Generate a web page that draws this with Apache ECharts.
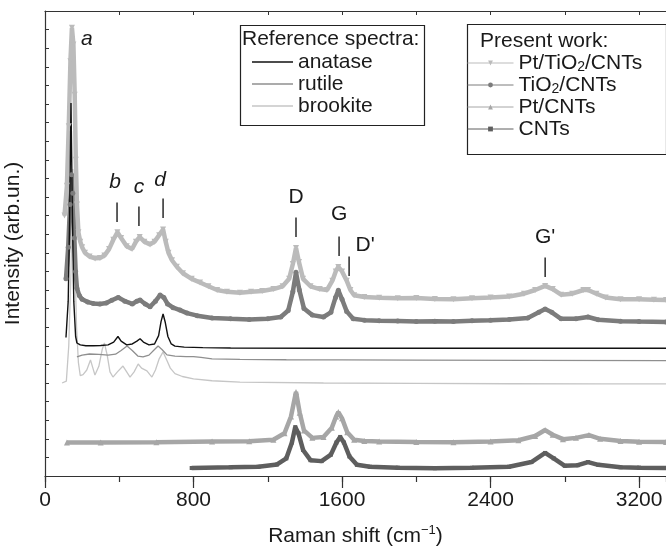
<!DOCTYPE html>
<html>
<head>
<meta charset="utf-8">
<title>Raman spectra</title>
<script src="https://cdn.jsdelivr.net/npm/echarts@6/dist/echarts.min.js"></script>
<style>
  html, body { margin: 0; padding: 0; background: #fff; }
  #chart { width: 666px; height: 547px; }
</style>
</head>
<body>
<div id="chart"></div>
<script>
// [Raman shift (cm-1), intensity (arb. units, curves offset)]
const ptTiO2Cnts = [
  [105, 14.0], [118, 15.6], [128, 18.8], [137, 22.3], [145, 24.1], [153, 23.2], [160, 20.5], [166, 17.0],
  [172, 14.6], [180, 13.1], [190, 12.6], [200, 12.3], [215, 12.0], [240, 11.8], [270, 11.7], [296, 11.72],
  [320, 11.85], [345, 12.2], [368, 12.7], [390, 13.1], [410, 12.8], [440, 12.35], [469, 12.2], [490, 12.6],
  [510, 12.85], [535, 12.6], [566, 12.45], [590, 12.6], [615, 12.95], [636, 13.25], [650, 12.6], [665, 12.0],
  [684, 11.6], [710, 11.25], [743, 10.9], [790, 10.6], [835, 10.4], [880, 10.2], [927, 10.0], [980, 9.9],
  [1050, 9.85], [1110, 9.9], [1170, 9.95], [1230, 10.05], [1280, 10.2], [1315, 10.6], [1335, 11.4], [1352, 12.26],
  [1368, 11.5], [1390, 10.6], [1430, 10.2], [1480, 10.05], [1519, 10.0], [1548, 10.5], [1566, 11.0], [1580, 11.24],
  [1600, 11.0], [1625, 10.5], [1645, 10.0], [1665, 9.72], [1720, 9.62], [1800, 9.58], [1900, 9.55], [2000, 9.57],
  [2100, 9.52], [2200, 9.5], [2300, 9.56], [2400, 9.6], [2500, 9.65], [2580, 9.8], [2640, 10.0], [2694, 10.22],
  [2735, 10.05], [2780, 9.75], [2840, 9.8], [2900, 10.0], [2925, 10.0], [2970, 9.8], [3020, 9.6], [3100, 9.5],
  [3200, 9.5], [3280, 9.48], [3345, 9.46]
];
const tio2Cnts = [
  [113, 10.6], [125, 12.3], [135, 14.6], [143, 16.2], [150, 15.2], [158, 12.8], [165, 11.0], [172, 10.1],
  [185, 9.7], [200, 9.5], [230, 9.35], [260, 9.28], [296, 9.25], [330, 9.3], [360, 9.45], [395, 9.6],
  [430, 9.4], [470, 9.25], [495, 9.4], [512, 9.46], [540, 9.25], [566, 9.1], [595, 9.4], [620, 9.73],
  [640, 9.6], [660, 9.25], [690, 9.05], [727, 8.92], [765, 8.76], [820, 8.62], [900, 8.5], [1000, 8.45],
  [1100, 8.42], [1200, 8.45], [1270, 8.55], [1310, 8.9], [1335, 9.9], [1352, 10.95], [1370, 10.0], [1395, 9.0],
  [1440, 8.65], [1500, 8.55], [1540, 8.8], [1565, 9.6], [1580, 9.98], [1600, 9.5], [1625, 8.85], [1660, 8.45],
  [1720, 8.38], [1800, 8.35], [1900, 8.33], [2000, 8.3], [2100, 8.32], [2200, 8.3], [2300, 8.35], [2400, 8.38],
  [2500, 8.42], [2600, 8.5], [2660, 8.8], [2694, 8.98], [2730, 8.8], [2780, 8.45], [2860, 8.45], [2925, 8.55],
  [2980, 8.4], [3100, 8.32], [3200, 8.3], [3345, 8.28]
];
const anatase = [
  [113, 7.45], [125, 9.4], [133, 14.0], [140, 20.05], [147, 14.5], [155, 9.4], [165, 7.5], [172, 7.15],
  [190, 7.05], [220, 7.0], [260, 7.0], [300, 7.02], [340, 7.05], [370, 7.2], [393, 7.5], [410, 7.25],
  [440, 7.05], [470, 7.1], [495, 7.25], [512, 7.38], [530, 7.2], [560, 7.05], [590, 7.1], [612, 7.55],
  [625, 8.3], [636, 8.71], [648, 8.25], [662, 7.5], [680, 7.1], [700, 6.98], [750, 6.93], [850, 6.9],
  [1000, 6.88], [1500, 6.87], [2000, 6.87], [2500, 6.87], [3000, 6.87], [3345, 6.87]
];
const rutile = [
  [172, 6.4], [200, 6.5], [240, 6.56], [290, 6.54], [340, 6.5], [380, 6.55], [410, 6.75], [442, 6.99],
  [470, 6.75], [500, 6.45], [528, 6.4], [560, 6.5], [590, 6.8], [609, 6.99], [630, 6.8], [657, 6.51],
  [700, 6.45], [760, 6.42], [800, 6.42], [840, 6.38], [900, 6.3], [1050, 6.27], [1300, 6.25], [1600, 6.24],
  [2000, 6.23], [2600, 6.22], [3345, 6.2]
];
const brookite = [
  [92, 5.0], [115, 5.1], [128, 7.0], [140, 11.0], [150, 16.5], [160, 12.0], [170, 8.0], [180, 6.1],
  [190, 5.4], [205, 5.45], [225, 5.7], [245, 6.24], [258, 5.8], [269, 5.43], [290, 5.9], [308, 6.8],
  [320, 7.15], [335, 6.5], [350, 5.6], [366, 5.32], [390, 5.6], [420, 5.91], [440, 5.6], [458, 5.32],
  [480, 5.6], [502, 6.02], [520, 5.8], [549, 5.65], [565, 5.45], [576, 5.32], [595, 5.7], [615, 6.3],
  [636, 6.67], [655, 6.25], [675, 5.8], [700, 5.5], [740, 5.35], [800, 5.22], [900, 5.12], [1050, 5.05],
  [1500, 5.0], [2000, 4.98], [2500, 4.96], [3000, 4.95], [3345, 4.95]
];
const ptCnts = [
  [118, 1.8], [300, 1.8], [600, 1.82], [900, 1.85], [1100, 1.87], [1230, 1.95], [1290, 2.3], [1325, 3.2],
  [1352, 4.52], [1372, 3.4], [1395, 2.45], [1440, 2.05], [1500, 2.1], [1545, 2.6], [1568, 3.2], [1580, 3.44],
  [1600, 3.1], [1628, 2.35], [1665, 1.95], [1720, 1.88], [1800, 1.85], [2000, 1.83], [2200, 1.82], [2400, 1.85],
  [2550, 1.92], [2640, 2.15], [2694, 2.47], [2735, 2.22], [2790, 1.98], [2860, 2.05], [2930, 2.2], [2990, 2.0],
  [3100, 1.88], [3200, 1.84], [3345, 1.83]
];
const cnts = [
  [790, 0.43], [1000, 0.47], [1150, 0.5], [1250, 0.62], [1300, 0.95], [1330, 1.8], [1348, 2.63], [1365, 2.3],
  [1390, 1.4], [1430, 0.85], [1490, 0.8], [1540, 1.15], [1570, 1.8], [1590, 2.1], [1610, 1.8], [1640, 1.05],
  [1680, 0.6], [1750, 0.5], [1900, 0.45], [2100, 0.42], [2300, 0.44], [2500, 0.5], [2620, 0.75], [2694, 1.24],
  [2740, 0.95], [2800, 0.55], [2870, 0.58], [2925, 0.75], [2980, 0.6], [3100, 0.47], [3200, 0.45], [3345, 0.43]
];

// peak markers (data units)
const peakLabels = ['a', 'b', 'c', 'd', 'D', 'G', "D'", "G'"];
const peakLabelX = [226, 377, 506, 620, 1352, 1584, 1724, 2694];
const peakLabelY = [23.49, 15.81, 15.54, 15.91, 15.0, 14.05, 12.42, 12.85];
const peakTickX = [null, 388, 506, 636, 1352, 1584, 1638, 2694];
const peakTickBottom = [null, 13.66, 13.44, 13.87, 12.85, 11.83, 10.75, 10.70];

const refNames = ['anatase', 'rutile', 'brookite'];
const workNames = ['Pt/TiO2/CNTs', 'TiO2/CNTs', 'Pt/CNTs', 'CNTs'];

const FONT = '"Liberation Sans", Arial, sans-serif';
const chart = echarts.init(document.getElementById('chart'));

function refLine(name, data, color, width) {
  return {
    name, type: 'line', data, symbol: 'none', z: 3,
    lineStyle: { color, width },
    itemStyle: { color }
  };
}

function workLine(name, data, color, symbol, size, rotate) {
  return {
    name, type: 'line', data, symbol, symbolSize: size, symbolRotate: rotate || 0,
    lineStyle: { color, width: 4.5 },
    itemStyle: { color }
  };
}

const legendText = {
  fontSize: 21, fontFamily: FONT, color: '#1a1a1a', lineHeight: 22,
  rich: { sub: { fontSize: 14, fontFamily: FONT, color: '#1a1a1a', lineHeight: 22, verticalAlign: 'bottom' } }
};

chart.setOption({
  animation: false,
  backgroundColor: '#fff',
  grid: [
    { left: 45, right: 0, top: 11, bottom: 71, outerBoundsMode: 'none' },
    { left: 45, right: 0, top: 11, bottom: 71, outerBoundsMode: 'none' }
  ],
  xAxis: [{
    type: 'value', gridIndex: 0, min: 0, max: 3345, interval: 800,
    name: 'Raman shift (cm{sup|\u22121})', nameLocation: 'middle', nameGap: 48,
    nameTextStyle: {
      fontSize: 21, fontFamily: FONT, color: '#1a1a1a', lineHeight: 24,
      rich: { sup: { fontSize: 13, fontFamily: FONT, color: '#1a1a1a', lineHeight: 24, verticalAlign: 'top' } }
    },
    axisLine: { lineStyle: { color: '#333', width: 1.2 } },
    axisTick: { length: 12, lineStyle: { color: '#333', width: 1.2 } },
    axisLabel: {
      fontSize: 21, fontFamily: FONT, color: '#1a1a1a', margin: 14, showMaxLabel: false,
      formatter: v => String(v)
    },
    splitLine: { show: false }
  }, {
    // minor ticks every 400
    type: 'value', gridIndex: 1, position: 'bottom', min: 0, max: 3345, interval: 400,
    axisLine: { show: false },
    axisTick: { length: 6, lineStyle: { color: '#333', width: 1.2 } },
    axisLabel: { show: false },
    splitLine: { show: false }
  }, {
    type: 'value', gridIndex: 1, position: 'top', min: 0, max: 3345, interval: 400,
    axisLine: { lineStyle: { color: '#333', width: 1.2 } },
    axisTick: { inside: true, length: 4, lineStyle: { color: '#333' } },
    axisLabel: { show: false },
    splitLine: { show: false }
  }],
  yAxis: [{
    type: 'value', gridIndex: 0, min: 0, max: 25, interval: 1,
    name: 'Intensity (arb.un.)', nameLocation: 'middle', nameGap: 21,
    nameTextStyle: { fontSize: 21, fontFamily: FONT, color: '#1a1a1a' },
    axisLine: { show: true, lineStyle: { color: '#333', width: 1.2 } },
    axisTick: { show: true, inside: true, length: 4, lineStyle: { color: '#333' } },
    axisLabel: { show: false },
    splitLine: { show: false }
  }, {
    type: 'value', gridIndex: 1, min: 0, max: 25, show: false
  }],
  legend: [{
    data: refNames.map(name => ({ name, icon: 'rect' })),
    orient: 'vertical', left: 252, top: 51, padding: 0,
    itemWidth: 41, itemHeight: 1.4, itemGap: 0, textStyle: legendText
  }, {
    data: workNames, orient: 'vertical', left: 467, top: 52, padding: 0,
    itemWidth: 46, itemHeight: 6, itemGap: 0, textStyle: legendText,
    lineStyle: { width: 1 },
    formatter: n => n.replace('O2', 'O{sub|2}')
  }],
  graphic: [
    { type: 'rect', left: 238, top: 23, shape: { width: 184, height: 100 },
      style: { fill: 'none', stroke: '#222', lineWidth: 1.2 } },
    { type: 'text', left: 242, top: 29,
      style: { text: 'Reference spectra:', fontSize: 21, fontFamily: FONT, fill: '#1a1a1a' } },
    { type: 'rect', left: 465, top: 22, shape: { width: 199, height: 130 },
      style: { fill: 'none', stroke: '#222', lineWidth: 1.2 } },
    { type: 'text', left: 480, top: 31,
      style: { text: 'Present work:', fontSize: 21, fontFamily: FONT, fill: '#1a1a1a' } }
  ],
  series: [
    workLine('CNTs', cnts, '#5e5e5e', 'rect', 4),
    workLine('Pt/CNTs', ptCnts, '#a6a6a6', 'triangle', 6),
    refLine('brookite', brookite, '#c6c6c6', 1.3),
    refLine('rutile', rutile, '#8f8f8f', 1.3),
    workLine('TiO2/CNTs', tio2Cnts, '#7c7c7c', 'circle', 5),
    workLine('Pt/TiO2/CNTs', ptTiO2Cnts, '#bbbbbb', 'triangle', 6, 180),
    refLine('anatase', anatase, '#111111', 1.4),
    {
      type: 'custom', name: 'peaks', z: 5,
      data: peakLabels.map((t, i) => [peakLabelX[i], peakLabelY[i]]),
      renderItem(params, api) {
        const i = params.dataIndex;
        const lp = api.coord([peakLabelX[i], peakLabelY[i]]);
        const children = [{
          type: 'text',
          style: {
            text: peakLabels[i], x: lp[0], y: lp[1], align: 'center', verticalAlign: 'middle',
            fontSize: 21, fontFamily: FONT, fontStyle: i < 4 ? 'italic' : 'normal', fill: '#1a1a1a'
          }
        }];
        if (peakTickX[i] !== null) {
          const p0 = api.coord([peakTickX[i], peakTickBottom[i]]);
          const p1 = api.coord([peakTickX[i], peakTickBottom[i] + 1.05]);
          children.push({
            type: 'line', shape: { x1: p0[0], y1: p0[1], x2: p1[0], y2: p1[1] },
            style: { stroke: '#1a1a1a', lineWidth: 1.4 }
          });
        }
        return { type: 'group', children };
      }
    }
  ]
});
</script>
</body>
</html>
